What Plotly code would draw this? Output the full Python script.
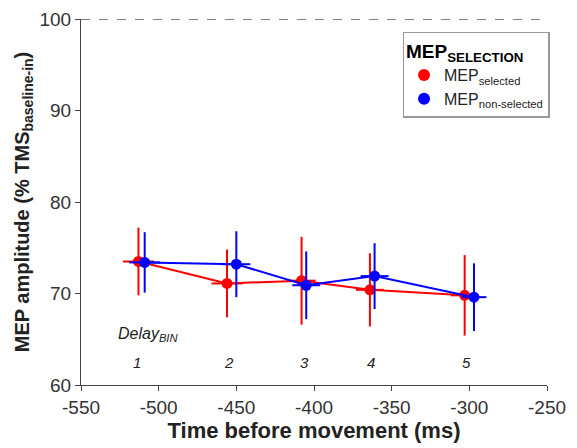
import plotly.graph_objects as go

# data
sel_time = [-513, -456, -408, -364, -303]
sel_amp = [73.5, 71.1, 71.4, 70.4, 69.8]
sel_err = [3.7, 3.7, 4.8, 4.0, 4.4]
sel_terr = [10, 10, 9, 9, 9]

non_time = [-509, -450, -405, -361, -297]
non_amp = [73.4, 73.2, 70.9, 71.9, 69.6]
non_err = [3.3, 3.6, 3.7, 3.6, 3.7]
non_terr = [10, 9, 9, 9, 8]

bin_labels = ["1", "2", "3", "4", "5"]
bin_x = [-514, -455, -406, -363, -302]

x_ticks = [-550, -500, -450, -400, -350, -300, -250]
x_ticklabels = ["-550", "-500", "-450", "-400", "-350", "-300", "-250"]
y_ticks = [60, 70, 80, 90, 100]

FONT = "Liberation Sans, Arial, sans-serif"

fig = go.Figure()

series = [
    ("MEP<sub>selected</sub>", sel_time, sel_amp, sel_err, sel_terr, "#ff0000"),
    ("MEP<sub>non-selected</sub>", non_time, non_amp, non_err, non_terr, "#0000ff"),
]

for name, t, a, e, te, col in series:
    fig.add_trace(go.Scatter(
        x=t, y=a, name=name, mode="lines+markers", showlegend=False,
        line=dict(color=col, width=2),
        marker=dict(color=col, size=11),
        error_y=dict(type="data", array=e, color=col, thickness=2, width=0),
        error_x=dict(type="data", array=te, color=col, thickness=2, width=0),
    ))

# legend entries show only the dot, like the original
for name, t, a, e, te, col in series:
    fig.add_trace(go.Scatter(
        x=[None], y=[None], name=name, mode="markers",
        marker=dict(color=col, size=12),
    ))

# dashed reference line at 100
fig.add_shape(type="line", xref="x", yref="y", x0=-550, x1=-250, y0=100, y1=100,
              line=dict(color="black", width=1, dash="dash"))

fig.add_annotation(x=-507, y=65.5, text="<i>Delay<sub>BIN</sub></i>", showarrow=False,
                   font=dict(size=16, color="#222", family=FONT))
for lab, bx in zip(bin_labels, bin_x):
    fig.add_annotation(x=bx, y=62.5, text="<i>" + lab + "</i>", showarrow=False,
                       font=dict(size=15, color="#222", family=FONT))

# page body keeps its 8px margin, so the figure is 8px smaller each way
fig.update_layout(
    width=569, height=440,
    margin=dict(l=73, r=30, t=11, b=63),
    plot_bgcolor="white", paper_bgcolor="white",
    font=dict(family=FONT, color="#333"),
    legend=dict(
        title=dict(text="<b>MEP<sub>SELECTION</sub></b>", font=dict(size=19, color="black")),
        x=0.69, y=0.965, xanchor="left", yanchor="top",
        bordercolor="#999", borderwidth=1.5, bgcolor="white",
        font=dict(size=16, color="#222"),
        tracegroupgap=0, itemwidth=30,
    ),
    xaxis=dict(
        range=[-550, -250], tickvals=x_ticks, ticktext=x_ticklabels,
        showgrid=False, zeroline=False, showline=True, linecolor="#444", linewidth=1,
        ticks="outside", ticklen=5, tickcolor="#444", automargin=False,
        tickfont=dict(size=19, color="#333"),
        title=dict(text="<b>Time before movement (ms)</b>", font=dict(size=22, color="#222"), standoff=4),
    ),
    yaxis=dict(
        range=[60, 100], tickvals=y_ticks,
        showgrid=False, zeroline=False, showline=True, linecolor="#444", linewidth=1,
        ticks="outside", ticklen=5, tickcolor="#444", automargin=False,
        tickfont=dict(size=19, color="#333"),
        title=dict(text="<b>MEP amplitude (% TMS<sub>baseline-in</sub>)</b>", font=dict(size=20, color="#222"), standoff=4),
    ),
)

fig.write_html("out.html")
